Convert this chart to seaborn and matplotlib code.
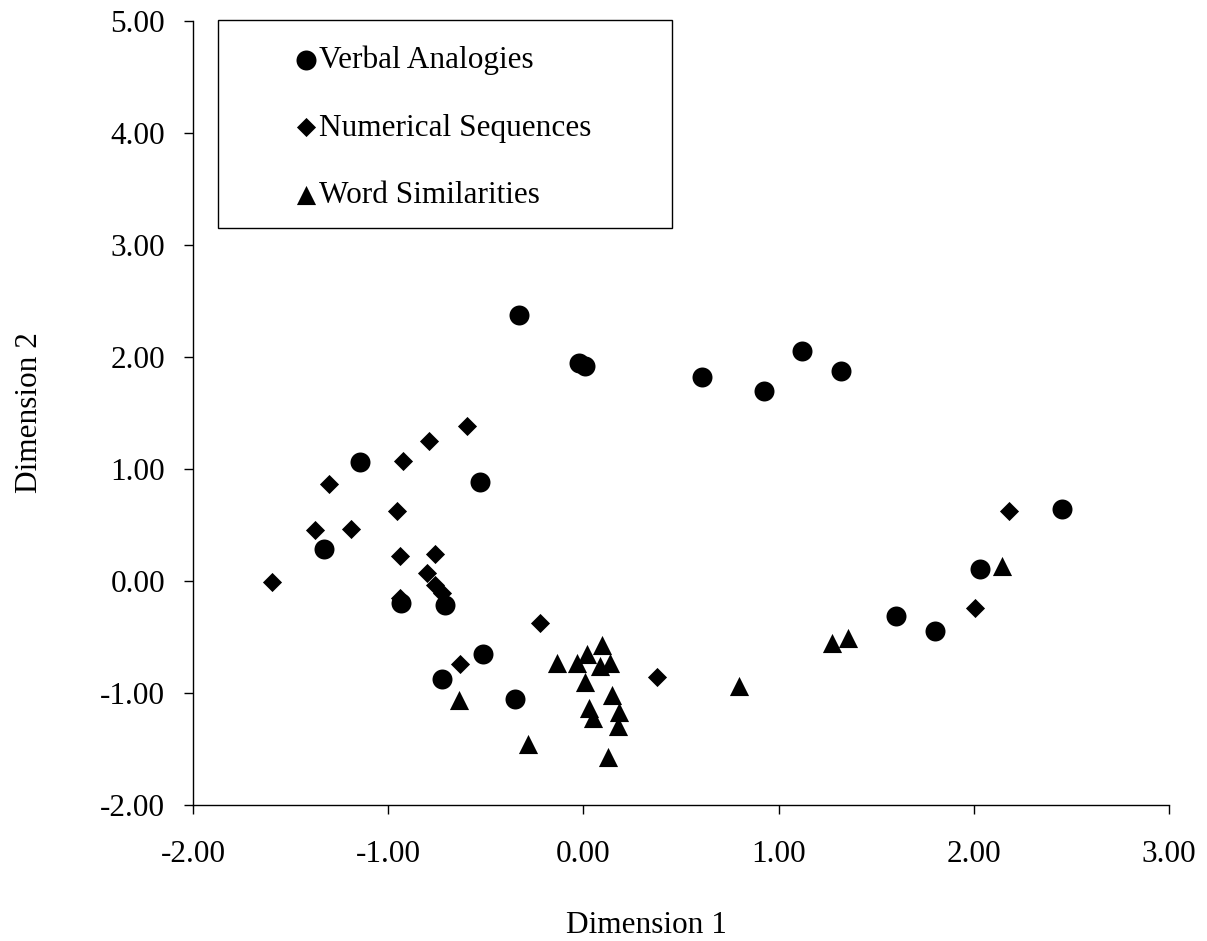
import matplotlib
matplotlib.use("Agg")
import matplotlib.pyplot as plt
import seaborn as sns
import pandas as pd
from matplotlib.patches import Rectangle
from matplotlib.ticker import FormatStrFormatter

# ---- data ----
verbal_x = [-0.33, -0.02, 0.01, 0.61, 0.925, 1.12, 1.32, 2.45, 2.03, 1.60, 1.80,
            -1.145, -0.53, -1.33, -0.936, -0.71, -0.513, -0.723, -0.35]
verbal_y = [2.375, 1.95, 1.92, 1.82, 1.70, 2.05, 1.875, 0.64, 0.11, -0.31, -0.45,
            1.065, 0.887, 0.283, -0.20, -0.214, -0.654, -0.878, -1.056]

numeric_x = [-0.595, -0.793, -0.923, -1.303, -0.953, -1.375, -1.192, -0.938, -0.759,
             -0.803, -0.76, -0.726, -0.94, -1.595, -0.222, -0.632, 0.375, 2.006, 2.18]
numeric_y = [1.384, 1.247, 1.071, 0.863, 0.622, 0.455, 0.467, 0.223, 0.241,
             0.069, -0.036, -0.11, -0.15, -0.006, -0.378, -0.744, -0.86, -0.238, 0.625]

word_x = [-0.137, -0.034, 0.017, 0.097, 0.085, 0.136, 0.008, 0.145, 0.029, 0.051,
          0.184, 0.176, 0.128, -0.282, -0.639, 0.797, 1.272, 1.357, 2.143]
word_y = [-0.735, -0.735, -0.652, -0.571, -0.759, -0.735, -0.90, -1.018, -1.137, -1.226,
          -1.167, -1.292, -1.569, -1.455, -1.063, -0.9375, -0.556, -0.512, 0.134]

series_names = ["Verbal Analogies", "Numerical Sequences", "Word Similarities"]
x_ticks = [-2, -1, 0, 1, 2, 3]
y_ticks = [-2, -1, 0, 1, 2, 3, 4, 5]
x_label = "Dimension 1"
y_label = "Dimension 2"

# ---- styling ----
sns.set_theme(style="ticks")
plt.rcParams["font.family"] = ["Liberation Serif", "DejaVu Serif"]
plt.rcParams["axes.unicode_minus"] = False

fig = plt.figure(figsize=(12.07, 9.41), dpi=100)
ax = fig.add_axes([193 / 1207, 1 - 805 / 941, 976 / 1207, 784 / 941])

df_v = pd.DataFrame({"x": verbal_x, "y": verbal_y})
df_n = pd.DataFrame({"x": numeric_x, "y": numeric_y})
df_w = pd.DataFrame({"x": word_x, "y": word_y})

sns.scatterplot(data=df_v, x="x", y="y", ax=ax, marker="o", s=207, color="black",
                linewidth=0, label=series_names[0], zorder=3)
sns.scatterplot(data=df_n, x="x", y="y", ax=ax, marker="D", s=95, color="black",
                linewidth=0, label=series_names[1], zorder=3)
sns.scatterplot(data=df_w, x="x", y="y", ax=ax, marker="^", s=190, color="black",
                linewidth=0, label=series_names[2], zorder=3)

ax.set_xlim(x_ticks[0], x_ticks[-1])
ax.set_ylim(y_ticks[0], y_ticks[-1])
ax.set_xticks(x_ticks)
ax.set_yticks(y_ticks)
ax.xaxis.set_major_formatter(FormatStrFormatter("%.2f"))
ax.yaxis.set_major_formatter(FormatStrFormatter("%.2f"))

for side in ["top", "right"]:
    ax.spines[side].set_visible(False)
for side in ["left", "bottom"]:
    ax.spines[side].set_color("black")
    ax.spines[side].set_linewidth(1.0)
    ax.spines[side].set_clip_on(False)

ax.tick_params(axis="x", direction="out", length=6.5, width=1.0, color="black",
               labelsize=22.5, labelcolor="black", pad=19)
ax.tick_params(axis="y", direction="out", length=6.5, width=1.0, color="black",
               labelsize=22.5, labelcolor="black", pad=13.5)

ax.set_xlabel(x_label, fontsize=22.5, color="black")
ax.set_ylabel(y_label, fontsize=22.5, color="black")
ax.xaxis.set_label_coords(0.465, -0.135)
ax.yaxis.set_label_coords(-0.153, 0.5)

# legend box
rect = Rectangle((0.0256, 0.736), 0.465, 0.265, transform=ax.transAxes,
                 facecolor="white", edgecolor="black", linewidth=1.0,
                 clip_on=False, zorder=4)
ax.add_patch(rect)
leg = ax.legend(loc="upper left", bbox_to_anchor=(0.1055, 0.969), frameon=False,
                fontsize=22.5, borderpad=0, borderaxespad=0, handlelength=0.65,
                handletextpad=0.1, labelspacing=1.24, scatterpoints=1)
leg.set_zorder(5)
for t in leg.get_texts():
    t.set_color("black")

fig.savefig("out.png", dpi=100, facecolor="white")
